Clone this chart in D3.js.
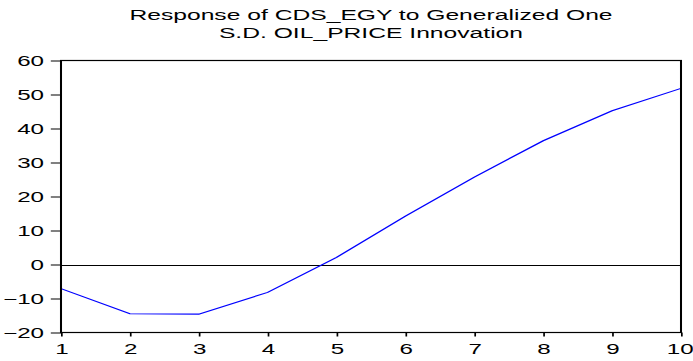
<!DOCTYPE html>
<html>
<head>
<meta charset="utf-8">
<script src="https://cdn.jsdelivr.net/npm/d3@7"></script>
<style>
  html, body { margin: 0; padding: 0; background: #fff; }
  svg { display: block; }
  text { font-family: "Liberation Sans", Arial, sans-serif; fill: #000; }
</style>
</head>
<body>
<svg id="chart"></svg>
<script>
// Impulse response, periods 1..10
const periods = [1, 2, 3, 4, 5, 6, 7, 8, 9, 10];
const response = [-7.1, -14.5, -14.6, -8.2, 2.1, 14.2, 25.7, 36.4, 45.2, 51.8];
const yTicks = [-20, -10, 0, 10, 20, 30, 40, 50, 60];
const xTicks = [1, 2, 3, 4, 5, 6, 7, 8, 9, 10];
const titleLines = ["Response of CDS_EGY to Generalized One", "S.D. OIL_PRICE Innovation"];

const W = 693, H = 361;
const SX = 1.7;              // horizontal stretch of the drawing
const VW = W / SX;           // viewBox width

const svg = d3.select("#chart")
  .attr("width", W).attr("height", H)
  .attr("viewBox", `0 0 ${VW} ${H}`)
  .attr("preserveAspectRatio", "none");

const plotLeft = 61 / SX, plotRight = 681 / SX, plotTop = 60.5, plotBottom = 332.5;

const x = d3.scaleLinear().domain([1, 10]).range([plotLeft, plotRight]);
const y = d3.scaleLinear().domain([-20, 60]).range([plotBottom, plotTop]);

// zero line
svg.append("line")
  .attr("x1", plotLeft).attr("x2", plotRight)
  .attr("y1", Math.round(y(0)) + 0.5).attr("y2", Math.round(y(0)) + 0.5)
  .attr("stroke", "#000").attr("stroke-width", 1);

// response line
svg.append("path")
  .datum(periods.map((p, i) => [p, response[i]]))
  .attr("fill", "none")
  .attr("stroke", "#0000ff")
  .attr("stroke-width", 1.1)
  .attr("d", d3.line().x(d => x(d[0])).y(d => y(d[1])));

// frame
svg.append("rect")
  .attr("x", plotLeft).attr("y", plotTop)
  .attr("width", plotRight - plotLeft).attr("height", plotBottom - plotTop)
  .attr("fill", "none").attr("stroke", "#000").attr("stroke-width", 1.2);

// axes
const yAxis = svg.append("g")
  .attr("transform", `translate(${plotLeft},0)`)
  .call(d3.axisLeft(y).tickValues(yTicks).tickSize(6).tickPadding(4).tickSizeOuter(0));
yAxis.select(".domain").remove();

const xAxis = svg.append("g")
  .attr("transform", `translate(0,${plotBottom})`)
  .call(d3.axisBottom(x).tickValues(xTicks).tickSize(4).tickPadding(7).tickSizeOuter(0)
    .tickFormat(d3.format("d")));
xAxis.select(".domain").remove();

svg.selectAll(".tick line").attr("stroke", "#000");
svg.selectAll(".tick text")
  .attr("fill", "#000")
  .style("font-size", "14.2px")
  .style("font-family", "'Liberation Sans', Arial, sans-serif");

// keep the last period label inside the right edge
xAxis.selectAll(".tick text")
  .filter(d => d === xTicks[xTicks.length - 1])
  .attr("dx", -1.6 / SX);

// title
svg.append("g").selectAll("text")
  .data(titleLines)
  .join("text")
  .attr("x", (plotLeft + plotRight) / 2)
  .attr("y", (d, i) => 20 + i * 18)
  .attr("text-anchor", "middle")
  .style("font-size", "14.5px")
  .text(d => d);
</script>
</body>
</html>
